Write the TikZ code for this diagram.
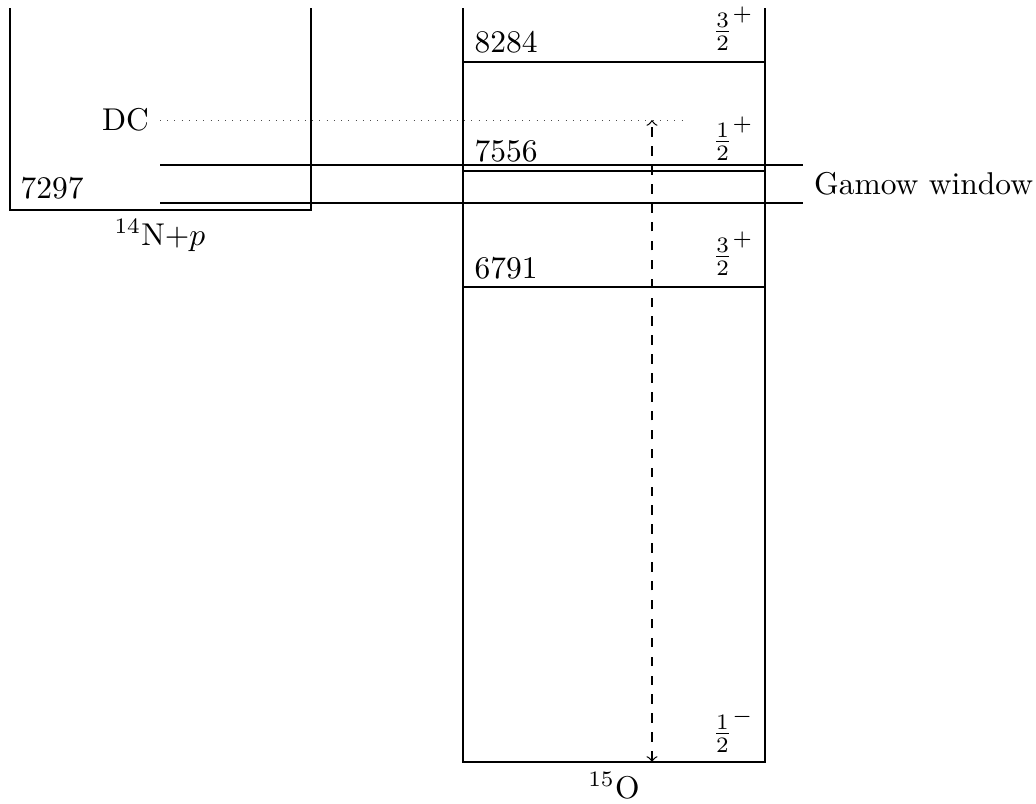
\documentclass[tikz,border=0pt]{standalone}
\begin{document}
\begin{tikzpicture}[x=0.3175pt,y=-0.3175pt,
  boxline/.style={line width=0.7pt},
  level/.style={line width=0.4pt},
  spin/.style={anchor=south,inner sep=0pt},
  energy/.style={anchor=base west,inner sep=0pt}]
\useasboundingbox (0,0) rectangle (1036,804);
% left box (14N+p)
\coordinate (lt) at (10,8);
\coordinate (lb) at (10,210);
\coordinate (rb) at (311,210);
\coordinate (rt) at (311,8);
\draw[boxline] (lt) -- (lb) -- (rb) -- (rt);
\node[energy] (e7297) at (20,199) {7297};
\node[anchor=base] (nlab) at (160,245) {$^{14}$N+$p$};
% right box (15O)
\coordinate (Olt) at (463,8);
\coordinate (Olb) at (463,762);
\coordinate (Orb) at (765,762);
\coordinate (Ort) at (765,8);
\draw[boxline] (Olt) -- (Olb) -- (Orb) -- (Ort);
\node[anchor=base] (olab) at (614,798) {$^{15}$O};
% levels
\coordinate (a1) at (463,62);  \coordinate (a2) at (765,62);
\coordinate (b1) at (463,171); \coordinate (b2) at (765,171);
\coordinate (c1) at (463,287); \coordinate (c2) at (765,287);
\draw[level] (a1) -- (a2);
\draw[level] (b1) -- (b2);
\draw[level] (c1) -- (c2);
\node[energy] (e8284) at (474,53) {8284};
\node[energy] (e7556) at (474,162) {7556};
\node[energy] (e6791) at (474,278) {6791};
\node[spin] (s8284) at (733,51) {$\frac{3}{2}^+$};
\node[spin] (s7556) at (733,161) {$\frac{1}{2}^+$};
\node[spin] (s6791) at (733,276) {$\frac{3}{2}^+$};
\node[spin] (s0) at (733,753) {$\frac{1}{2}^-$};
% Gamow window
\coordinate (g1) at (160,165); \coordinate (g2) at (803,165);
\coordinate (g3) at (160,203); \coordinate (g4) at (803,203);
\draw[level] (g1) -- (g2);
\draw[level] (g3) -- (g4);
\node[anchor=west] (gw) at (803,184) {Gamow window};
% direct capture
\node[anchor=east] (dc) at (160,120) {DC};
\coordinate (dcend) at (685,120);
\draw[line width=0.3pt,dotted,black!70] (dc.east) -- (dcend);
\coordinate (arrtop) at (652,120);
\coordinate (arrbot) at (652,762);
\draw[level,dashed,<->] (arrbot) -- (arrtop);
\end{tikzpicture}
\end{document}
